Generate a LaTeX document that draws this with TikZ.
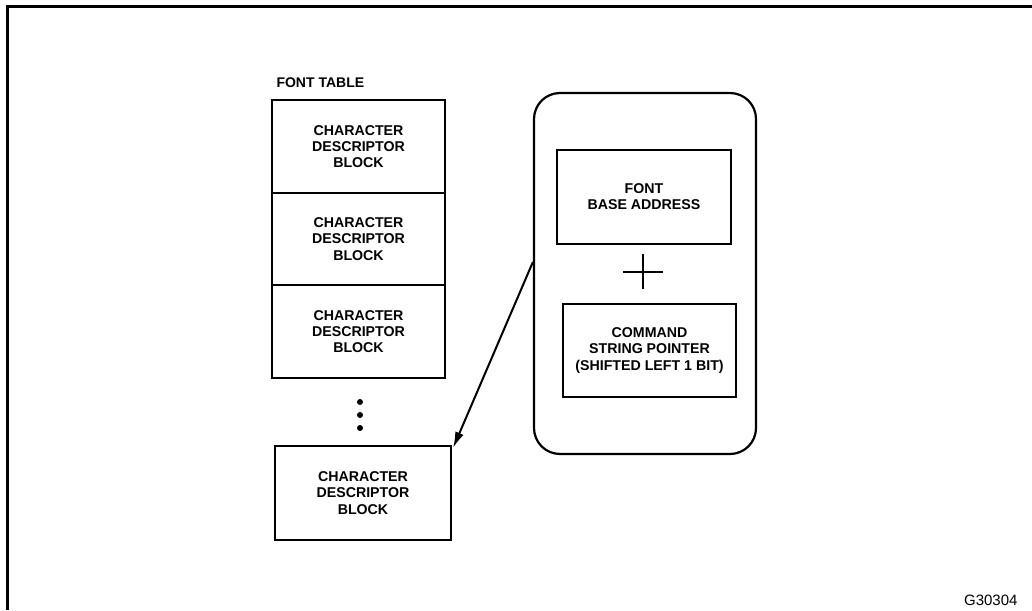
\documentclass[tikz,border=0pt]{standalone}
\usepackage{fontspec}
\setmainfont{Liberation Sans}
\usetikzlibrary{arrows.meta}
\begin{document}
\begin{tikzpicture}[x=1pt,y=-1pt,
  txt/.style={font=\fontsize{14.2}{16.2}\selectfont\bfseries, align=center},
  blockbox/.style={draw, line width=2.2pt, inner sep=0pt, txt},
  frameline/.style={line width=3pt},
  ptr/.style={line width=2pt, -{Latex[length=16pt,width=9pt]}}]
\useasboundingbox (0,0) rectangle (1032,610);
\fill[white] (0,0) rectangle (1032,610);
% outer frame (top and left)
\coordinate (ftr) at (1032,7);
\coordinate (ftl) at (7,7);
\coordinate (fbl) at (7,610);
\draw[frameline] (ftr) -- (ftl) -- (fbl);
% font table
\node[anchor=base west, font=\fontsize{14}{15.5}\selectfont\bfseries] (title) at (273,87) {FONT TABLE};
\node[blockbox, minimum width=173pt, minimum height=93pt] (c1) at (358.5,146.5) {CHARACTER\\DESCRIPTOR\\BLOCK};
\node[blockbox, minimum width=173pt, minimum height=92pt] (c2) at (358.5,239) {CHARACTER\\DESCRIPTOR\\BLOCK};
\node[blockbox, minimum width=173pt, minimum height=93pt] (c3) at (358.5,331.5) {CHARACTER\\DESCRIPTOR\\BLOCK};
\node[fill, circle, inner sep=0pt, minimum size=6pt] (d1) at (360,402) {};
\node[fill, circle, inner sep=0pt, minimum size=6pt] (d2) at (360,415) {};
\node[fill, circle, inner sep=0pt, minimum size=6pt] (d3) at (360,428) {};
\node[blockbox, minimum width=176pt, minimum height=94pt] (last) at (363,493) {CHARACTER\\DESCRIPTOR\\BLOCK};
% rounded box
\node[draw, line width=2.2pt, rounded corners=26pt, minimum width=222pt, minimum height=361pt, inner sep=0pt] (rb) at (645,273.5) {};
\node[blockbox, minimum width=174pt, minimum height=94pt] (fba) at (644,197) {FONT\\BASE ADDRESS};
\node[blockbox, minimum width=173pt, minimum height=93pt] (csp) at (649.5,350.5) {COMMAND\\STRING POINTER\\(SHIFTED LEFT 1 BIT)};
% plus sign
\node[inner sep=0pt, minimum size=0pt] (plus) at (643,272) {};
\draw[line width=2pt] ([xshift=-20pt]plus.center) -- ([xshift=20pt]plus.center);
\draw[line width=2pt] ([yshift=-17pt]plus.center) -- ([yshift=18pt]plus.center);
% pointer
\coordinate (as) at (rb.west |- 0,262);
\draw[ptr] (as) -- ([xshift=1pt,yshift=-3pt]last.north east);
% figure number
\node[anchor=base east, font=\fontsize{15}{16}\selectfont] (fig) at (1021,605) {G30304};
\end{tikzpicture}
\end{document}
